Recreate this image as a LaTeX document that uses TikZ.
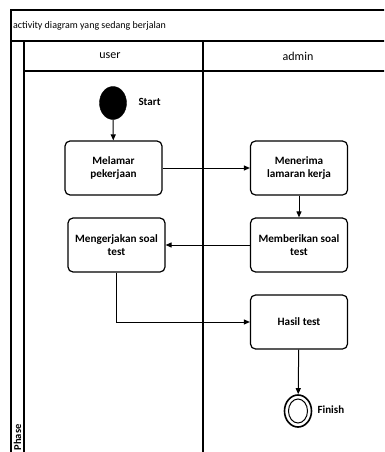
\documentclass[tikz,border=0pt]{standalone}
\usepackage{fontspec}
\setmainfont{Carlito}
\usetikzlibrary{arrows.meta,shapes.geometric}
\begin{document}
\begin{tikzpicture}[x=1pt,y=-1pt,
  frame/.style={line width=1.8pt},
  act/.style={draw,line width=1.2pt,rounded corners=5pt,minimum width=97pt,minimum height=54pt,align=center,font=\bfseries\fontsize{11.2}{13.5}\selectfont,inner sep=2pt},
  flow/.style={line width=1pt,-{Triangle[length=6pt,width=5pt]}},
  lbl/.style={font=\bfseries\fontsize{11}{13}\selectfont,anchor=west}]
\useasboundingbox (0,0) rectangle (384,452);
\begin{scope}
\clip (0,0) rectangle (384,452);
% frame
\draw[frame] (11,470) -- (11,10) -- (400,10);
\draw[frame] (11,41) -- (400,41);
\draw[frame] (24,41) -- (24,470);
\draw[frame] (24,71) -- (400,71);
\draw[frame] (203,41) -- (203,470);
\node[anchor=west,font=\fontsize{10}{12}\selectfont,inner sep=0pt] (title) at (13,25.5) {activity diagram yang sedang berjalan};
\node[font=\fontsize{12}{14}\selectfont] (huser) at (110,56) {user};
\node[font=\fontsize{12}{14}\selectfont] (hadmin) at (298,56) {admin};
\node[rotate=90,anchor=west,font=\bfseries\fontsize{10.5}{12}\selectfont,inner sep=0pt] (phase) at (17.5,450.5) {Phase};
\end{scope}
% start
\node[draw,fill=black,ellipse,minimum width=27pt,minimum height=33pt,inner sep=0pt] (start) at (113,103) {};
\node[lbl] (startl) at (135,102) {Start};
% activities
\node[act] (melamar) at (113.5,168) {Melamar\\pekerjaan};
\node[act] (menerima) at (299,168) {Menerima\\lamaran kerja};
\node[act] (memberikan) at (299,245) {Memberikan soal\\test};
\node[act] (mengerjakan) at (116.5,245) {Mengerjakan soal\\test};
\node[act] (hasil) at (299,322) {Hasil test};
% finish
\node[draw,line width=1.6pt,ellipse,minimum width=27pt,minimum height=32pt,inner sep=0pt] (finish) at (298,411) {};
\node[draw,line width=1pt,ellipse,minimum width=19pt,minimum height=24pt,inner sep=0pt] (finishin) at (298,411) {};
\node[lbl] (finishl) at (314,410) {Finish};
% flows
\draw[flow] (start) -- (melamar);
\draw[flow] (melamar) -- (menerima);
\draw[flow] (menerima) -- (memberikan);
\draw[flow] (memberikan) -- (mengerjakan);
\draw[flow] (mengerjakan.south) |- (hasil.west);
\draw[flow] (hasil) -- (finish);
\end{tikzpicture}
\end{document}
